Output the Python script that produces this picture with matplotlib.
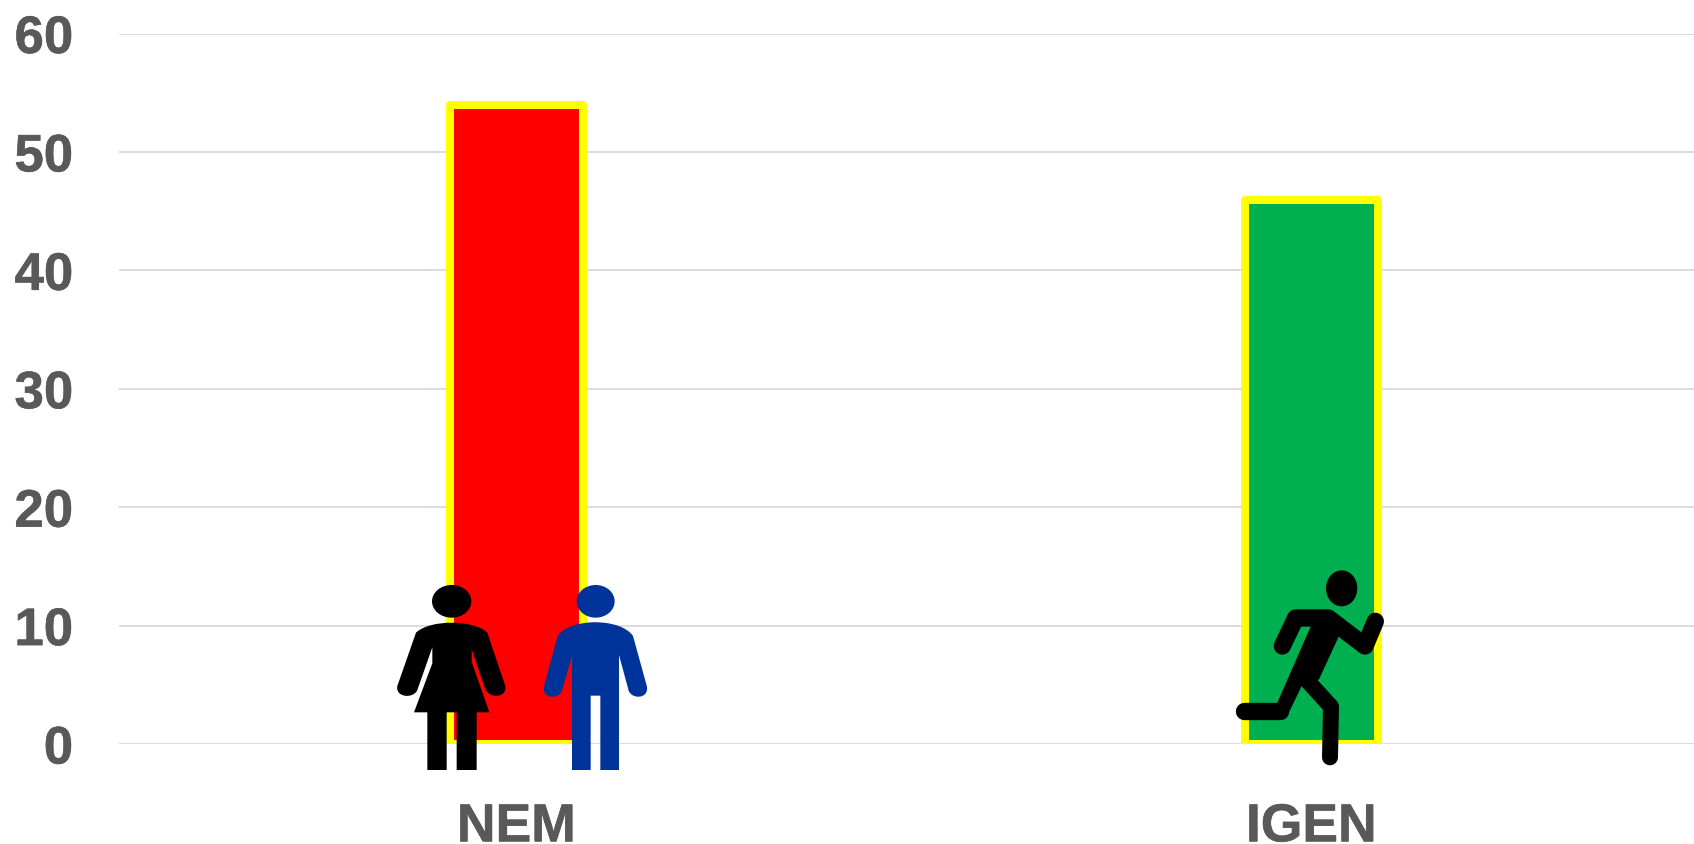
"""
plot.py - NEM / IGEN oszlopdiagram ikonokkal
"""

import matplotlib
matplotlib.use('Agg')
import matplotlib.patheffects as path_effects
import matplotlib.pyplot as plt
from matplotlib.patches import Ellipse, PathPatch
from matplotlib.path import Path

WIDTH, HEIGHT = 1694, 844

categories = ['NEM', 'IGEN']
values = [54, 45.9]
bar_colors = ['#ff0000', '#00b050']
y_ticks = [0, 10, 20, 30, 40, 50, 60]

TEXT_COLOR = '#595959'
GRID_COLOR = '#d9d9d9'
EDGE_COLOR = '#ffff00'
MAN_COLOR = '#00339a'

plt.rcParams['font.family'] = ['Liberation Sans', 'DejaVu Sans']


def px(pixels):
    # pixel -> point at dpi 100
    return pixels * 0.72


def crop_points(points, left, top):
    # icon outlines are sketched on a 3x grid around their own corner
    return [(left + x / 3, top + y / 3) for x, y in points]


def outline(axis, segments, left, top, color):
    vertices = []
    codes = []
    for kind, points in segments:
        vertices.extend(crop_points(points, left, top))
        codes.extend([kind] * len(points))
    vertices.append(vertices[0])
    codes.append(Path.CLOSEPOLY)
    codes[0] = Path.MOVETO
    axis.add_patch(PathPatch(Path(vertices, codes), facecolor=color, edgecolor='none'))


def draw_woman(axis):
    left, top = 380, 560
    axis.add_patch(Ellipse((left + 215 / 3, top + 124 / 3), 118 / 3, 98 / 3, color='black', lw=0))
    outline(axis, [
        (Path.LINETO, [(108, 218)]),
        (Path.CURVE4, [(150, 178), (280, 178), (322, 218)]),
        (Path.LINETO, [(376, 378)]),
        (Path.CURVE4, [(382, 412), (330, 418), (316, 388)]),
        (Path.LINETO, [(275, 268), (275, 305), (328, 457), (290, 457), (290, 630),
                       (230, 630), (230, 457), (200, 457), (200, 630), (142, 630),
                       (142, 457), (102, 457), (157, 310), (157, 262), (112, 390)]),
        (Path.CURVE4, [(100, 418), (45, 412), (52, 378)]),
    ], left, top, 'black')


def draw_man(axis):
    left, top = 380, 560
    axis.add_patch(Ellipse((left + 647 / 3, top + 124 / 3), 114 / 3, 98 / 3, color=MAN_COLOR, lw=0))
    outline(axis, [
        (Path.LINETO, [(533, 228)]),
        (Path.CURVE4, [(570, 173), (722, 173), (759, 228)]),
        (Path.LINETO, [(801, 380)]),
        (Path.CURVE4, [(806, 418), (755, 418), (746, 392)]),
        (Path.LINETO, [(717, 285), (717, 630), (661, 630), (661, 407), (632, 407),
                       (632, 630), (576, 630), (576, 288), (546, 392)]),
        (Path.CURVE4, [(537, 418), (486, 418), (492, 380)]),
    ], left, top, MAN_COLOR)


def draw_runner(axis):
    left, top = 1200, 550
    axis.add_patch(Ellipse((left + 425 / 3, top + 115 / 3), 94 / 3, 108 / 3, color='black', lw=0))
    limbs = [
        ([(247, 288), (287, 204), (385, 204), (495, 288), (526, 214)], 52),
        ([(132, 483), (240, 483)], 52),
        ([(322, 392), (393, 470), (390, 622)], 48),
    ]
    for points, width in limbs:
        points = crop_points(points, left, top)
        axis.plot([p[0] for p in points], [p[1] for p in points], color='black',
                  lw=px(width / 3), solid_capstyle='round', solid_joinstyle='round')
    torso = [(332, 230), (410, 215), (415, 262), (357, 388), (305, 408), (262, 497),
             (245, 509), (230, 470), (232, 458)]
    axis.fill(*zip(*crop_points(torso, left, top)), color='black', lw=0)


figure = plt.figure(figsize=(WIDTH / 100, HEIGHT / 100), dpi=100, facecolor='white')

# the plot area runs a little past the right edge of the figure
axis = figure.add_axes([119 / WIDTH, 1 - 744 / HEIGHT, 1590 / WIDTH, 710.5 / HEIGHT])
axis.bar(range(len(categories)), values, width=0.167, color=bar_colors,
         edgecolor=EDGE_COLOR, linewidth=px(8), joinstyle='round', zorder=3)
axis.set_xlim(-0.5, 1.5)
axis.set_ylim(0, 60)
axis.set_yticks(y_ticks)
axis.set_xticks(range(len(categories)))
axis.set_xticklabels(categories)
axis.grid(axis='y', color=GRID_COLOR, linewidth=px(1.8), zorder=0)
axis.set_axisbelow(True)
axis.tick_params(axis='y', length=0, pad=33, labelsize=38, labelcolor=TEXT_COLOR)
axis.tick_params(axis='x', length=0, pad=42, labelsize=38.5, labelcolor=TEXT_COLOR)
heavier = [path_effects.withStroke(linewidth=0.4, foreground=TEXT_COLOR)]
for label in axis.get_xticklabels() + axis.get_yticklabels():
    label.set_fontweight('bold')
    label.set_clip_on(False)
    label.set_path_effects(heavier)
for spine in axis.spines.values():
    spine.set_visible(False)

# icon layer, in figure pixels
overlay = figure.add_axes([0, 0, 1, 1], facecolor='none')
overlay.set_xlim(0, WIDTH)
overlay.set_ylim(HEIGHT, 0)
overlay.axis('off')
draw_woman(overlay)
draw_man(overlay)
draw_runner(overlay)

figure.savefig('out.png', dpi=100)
plt.close(figure)
